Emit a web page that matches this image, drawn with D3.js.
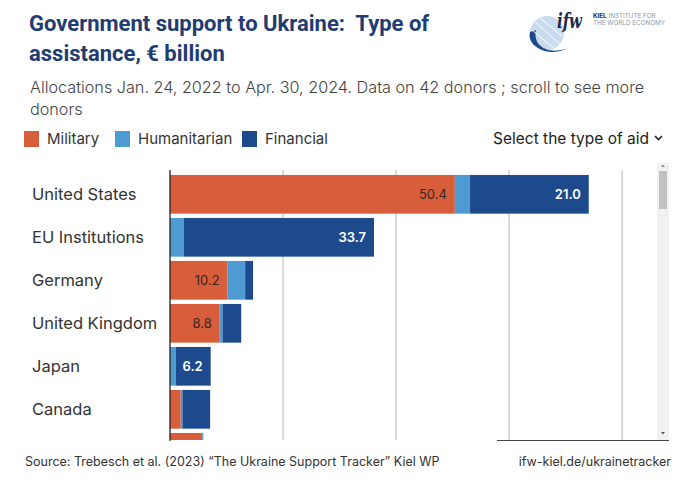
<!DOCTYPE html>
<html>
<head>
<meta charset="utf-8">
<script src="https://cdn.jsdelivr.net/npm/d3@7"></script>
<style>
  body { margin: 0; background: #fff; }
  svg { display: block; }
</style>
</head>
<body>
<div id="chart"></div>
<script>
// donors in tracker order, values in € billion
const donors = ["United States", "EU Institutions", "Germany", "United Kingdom", "Japan", "Canada", "Denmark"];
const military = [50.4, 0, 10.2, 8.8, 0, 1.9, 5.7];
const humanitarian = [2.7, 2.4, 3.1, 0.5, 1.0, 0.3, 0.2];
const financial = [21.0, 33.7, 1.4, 3.3, 6.2, 4.9, 0];
const seriesNames = ["Military", "Humanitarian", "Financial"];
const gridTicks = [20, 40, 60, 80];

const colors = { Military: "#d85d3b", Humanitarian: "#4e9ad3", Financial: "#1d4a8d" };

const width = 680, height = 480;
const font = "Inter, 'Noto Sans', sans-serif";
const windowBottom = 440;

const svg = d3.select("#chart").append("svg")
    .attr("width", width)
    .attr("height", height);

// title + subtitle
const title = svg.append("text")
    .attr("font-family", "Roboto, sans-serif")
    .attr("font-weight", 700)
    .attr("font-size", 22)
    .attr("fill", "#1f3c73");
title.append("tspan").attr("x", 29).attr("y", 31).text("Government support to Ukraine:\u00a0 Type of");
title.append("tspan").attr("x", 29).attr("y", 61).text("assistance, € billion");

const sub = svg.append("text")
    .attr("font-family", font)
    .attr("font-weight", 300)
    .attr("font-size", 16.2)
    .attr("fill", "#444");
sub.append("tspan").attr("x", 30).attr("y", 93).text("Allocations Jan. 24, 2022 to Apr. 30, 2024. Data on 42 donors ; scroll to see more");
sub.append("tspan").attr("x", 30).attr("y", 115).text("donors");

// logo (rough)
const logo = svg.append("g");
logo.append("circle").attr("cx", 547).attr("cy", 33).attr("r", 17).attr("fill", "#c9dcef");
logo.append("path")
    .attr("d", "M530,32 C 526,48 552,58 567,48 C 552,55 532,48 536,30 Z")
    .attr("fill", "#1d4a8d");
logo.append("path")
    .attr("d", "M535,22 L560,44 M540,18 L562,36 M532,30 L556,50")
    .attr("stroke", "#fff").attr("stroke-width", 1);
logo.append("text").attr("x", 557).attr("y", 28)
    .attr("font-family", "'DejaVu Serif', serif").attr("font-style", "italic").attr("font-weight", 700)
    .attr("font-size", 20).attr("fill", "#1a2a4a")
    .attr("textLength", 25).attr("lengthAdjust", "spacingAndGlyphs")
    .text("ifw");
logo.append("text").attr("x", 593).attr("y", 18)
    .attr("font-family", font).attr("font-size", 6.3).attr("fill", "#8899aa")
    .html('<tspan font-weight="700" fill="#1a2a4a">KIEL</tspan> INSTITUTE FOR');
logo.append("text").attr("x", 593).attr("y", 25)
    .attr("font-family", font).attr("font-size", 6.3).attr("fill", "#8899aa")
    .text("THE WORLD ECONOMY");

// legend
const legendX = [24, 115, 242];
const legend = svg.append("g").selectAll("g")
    .data(seriesNames)
    .join("g")
    .attr("transform", (d, i) => `translate(${legendX[i]},131)`);
legend.append("rect").attr("width", 15).attr("height", 16).attr("fill", d => colors[d]);
legend.append("text")
    .attr("x", 23).attr("y", 13)
    .attr("font-family", font).attr("font-size", 15).attr("fill", "#333")
    .text(d => d);

svg.append("text")
    .attr("x", 649).attr("y", 144)
    .attr("text-anchor", "end")
    .attr("font-family", font).attr("font-size", 15.5).attr("fill", "#222")
    .text("Select the type of aid");
svg.append("path")
    .attr("d", "M655,136 L658.5,139.5 L662,136")
    .attr("fill", "none").attr("stroke", "#222").attr("stroke-width", 1.6);

// scales
const x = d3.scaleLinear().domain([0, 86]).range([170, 656]);
const y = d3.scaleBand().domain(donors).range([172.8, 473.8]).paddingInner(0.1).paddingOuter(0.05);
const inWindow = d => y(d) + y.bandwidth() / 2 < windowBottom;

// clip to the scroll window
svg.append("clipPath").attr("id", "win")
    .append("rect").attr("x", 0).attr("y", 166).attr("width", 657).attr("height", windowBottom - 166);

const plot = svg.append("g").attr("clip-path", "url(#win)");

// gridlines
plot.append("g").selectAll("line")
    .data(gridTicks)
    .join("line")
    .attr("x1", d => x(d)).attr("x2", d => x(d))
    .attr("y1", 170).attr("y2", 441)
    .attr("stroke", "#b5b5b5").attr("stroke-width", 1);

// stacked bars
const rows = donors.map((d, i) => ({ donor: d, Military: military[i], Humanitarian: humanitarian[i], Financial: financial[i] }));
const stack = d3.stack().keys(seriesNames)(rows);

const layers = plot.append("g").selectAll("g")
    .data(stack)
    .join("g")
    .attr("fill", d => colors[d.key]);

layers.selectAll("rect")
    .data(d => d)
    .join("rect")
    .attr("x", d => x(d[0]))
    .attr("y", d => y(d.data.donor))
    .attr("width", d => x(d[1]) - x(d[0]))
    .attr("height", y.bandwidth());

// value labels on wide enough segments (rows scrolled out of view get none)
layers.selectAll("text")
    .data(d => d.map(s => Object.assign(s, { key: d.key }))
        .filter(s => s.key !== "Humanitarian" && x(s[1]) - x(s[0]) > 30 && inWindow(s.data.donor)))
    .join("text")
    .attr("x", d => x(d[1]) - 8)
    .attr("y", d => y(d.data.donor) + y.bandwidth() / 2)
    .attr("dy", "0.36em")
    .attr("text-anchor", "end")
    .attr("font-family", font)
    .attr("font-size", 13)
    .attr("font-weight", d => d.key === "Financial" ? 600 : 400)
    .attr("fill", d => d.key === "Financial" ? "#fff" : "#3a2620")
    .text(d => d3.format(".1f")(d[1] - d[0]));

// country labels
plot.append("g").selectAll("text")
    .data(donors.filter(inWindow))
    .join("text")
    .attr("x", 32)
    .attr("y", d => y(d) + y.bandwidth() / 2)
    .attr("dy", "0.36em")
    .attr("font-family", font)
    .attr("font-size", 16.5)
    .attr("fill", "#333")
    .text(d => d);

// y axis line
svg.append("line")
    .attr("x1", x(0)).attr("x2", x(0))
    .attr("y1", 170).attr("y2", 441)
    .attr("stroke", "#222").attr("stroke-width", 1.3);

// stray axis piece under the scroll window
svg.append("line")
    .attr("x1", 497).attr("x2", 669)
    .attr("y1", 440.5).attr("y2", 440.5)
    .attr("stroke", "#444").attr("stroke-width", 1);

// scrollbar
svg.append("rect").attr("x", 657).attr("y", 163).attr("width", 12).attr("height", 277).attr("fill", "#f1f1f1");
svg.append("rect").attr("x", 659).attr("y", 171).attr("width", 8).attr("height", 38).attr("fill", "#c1c1c1");
svg.append("path").attr("d", "M661,167 L663,164.5 L665,167 Z").attr("fill", "#888");
svg.append("path").attr("d", "M661,432 L663,434.5 L665,432 Z").attr("fill", "#555");

// footer
svg.append("text")
    .attr("x", 25).attr("y", 466)
    .attr("font-family", font).attr("font-size", 12.5).attr("fill", "#333")
    .text("Source: Trebesch et al. (2023) \u201cThe Ukraine Support Tracker\u201d Kiel WP");
svg.append("text")
    .attr("x", 671).attr("y", 466)
    .attr("text-anchor", "end")
    .attr("font-family", font).attr("font-size", 12.5).attr("fill", "#333")
    .text("ifw-kiel.de/ukrainetracker");
</script>
</body>
</html>
